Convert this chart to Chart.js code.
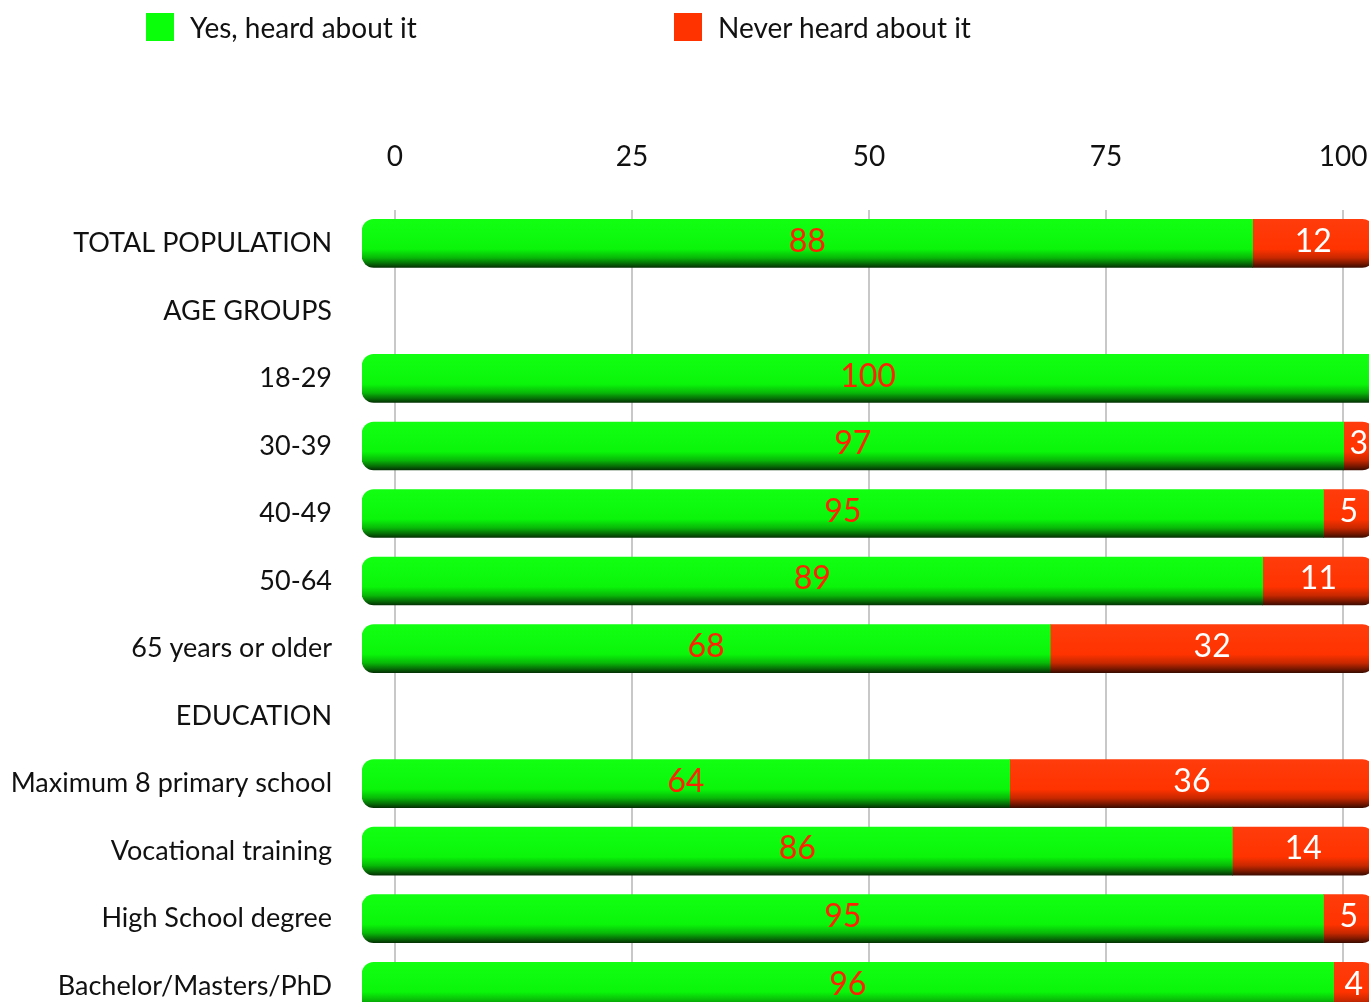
<!DOCTYPE html>
<html>
<head>
<meta charset="utf-8">
<script src="https://cdn.jsdelivr.net/npm/chart.js@4"></script>
<style>
  html, body { margin: 0; padding: 0; background: #fff; overflow: hidden; }
  #wrap { position: relative; width: 1369px; height: 1020px; }
  .legend { position: absolute; top: 10px; font: 28px Lato, sans-serif; color: #111; display: flex; align-items: center; }
  .legend span.box { display: inline-block; width: 28px; height: 28px; margin-right: 16px; }
</style>
</head>
<body>
<div id="wrap">
  <div class="legend" style="left:146px"><span class="box" style="background:#0aff0a"></span>Yes, heard about it</div>
  <div class="legend" style="left:674px"><span class="box" style="background:#ff3300"></span>Never heard about it</div>
  <canvas id="chart"></canvas>
</div>
<script>
const categories = [
  'TOTAL POPULATION', 'AGE GROUPS', '18-29', '30-39', '40-49', '50-64', '65 years or older',
  'EDUCATION', 'Maximum 8 primary school', 'Vocational training', 'High School degree', 'Bachelor/Masters/PhD'
];
const heardValues = [88, null, 100, 97, 95, 89, 68, null, 64, 86, 95, 96];
const neverValues = [12, null, 0, 3, 5, 11, 32, null, 36, 14, 5, 4];
const tickValues = [0, 25, 50, 75, 100];

const BAR_H = 48;

function barGradient(ctx, stops, flat) {
  const chart = ctx.chart;
  const y = chart.scales && chart.scales.y;
  if (!chart.chartArea || !y || ctx.dataIndex === undefined) return flat;
  const yc = y.getPixelForValue(ctx.dataIndex);
  const g = chart.ctx.createLinearGradient(0, yc - BAR_H / 2, 0, yc + BAR_H / 2);
  stops.forEach(([p, c]) => g.addColorStop(p, c));
  return g;
}

const GREEN_STOPS = [[0, '#12ff12'], [0.62, '#0af50a'], [0.8, '#08b808'], [0.92, '#066d06'], [1, '#043404']];
const RED_STOPS = [[0, '#ff3c0c'], [0.62, '#ff3300'], [0.8, '#c82800'], [0.92, '#7a1800'], [1, '#3e0c00']];

const valueLabels = {
  id: 'valueLabels',
  afterDatasetsDraw(chart) {
    const ctx = chart.ctx;
    ctx.save();
    ctx.font = '32px Lato, sans-serif';
    ctx.textAlign = 'center';
    ctx.textBaseline = 'middle';
    chart.data.datasets.forEach((ds, di) => {
      chart.getDatasetMeta(di).data.forEach((bar, i) => {
        const v = ds.data[i];
        if (!v) return;
        ctx.fillStyle = di === 0 ? '#ff2200' : '#ffffff';
        ctx.fillText(String(v), (bar.x + bar.base) / 2, bar.y - 2);
      });
    });
    ctx.restore();
  }
};

new Chart(document.getElementById('chart'), {
  type: 'bar',
  data: {
    labels: categories,
    datasets: [
      {
        label: 'Yes, heard about it',
        data: heardValues,
        backgroundColor: (c) => barGradient(c, GREEN_STOPS, '#0aff0a'),
        borderRadius: { topLeft: 12, bottomLeft: 12, topRight: 0, bottomRight: 0 },
        borderSkipped: false,
        barThickness: BAR_H,
        xAxisID: 'x',
      },
      {
        label: 'Never heard about it',
        data: neverValues,
        backgroundColor: (c) => barGradient(c, RED_STOPS, '#ff3300'),
        borderRadius: { topLeft: 0, bottomLeft: 0, topRight: 12, bottomRight: 12 },
        borderSkipped: false,
        barThickness: BAR_H,
        xAxisID: 'x',
      },
    ],
  },
  options: {
    indexAxis: 'y',
    responsive: true,
    maintainAspectRatio: false,
    animation: false,
    layout: { padding: { top: 104, left: 0, right: 0, bottom: 0 } },
    plugins: {
      legend: { display: false },
      tooltip: { enabled: false },
    },
    scales: {
      x: {
        stacked: true,
        display: false,
        min: 0,
        max: 99.5,
      },
      xt: {
        type: 'linear',
        position: 'top',
        min: -3.48,
        max: 102.74,
        afterBuildTicks: (scale) => { scale.ticks = tickValues.map((v) => ({ value: v })); },
        afterFit: (scale) => { scale.paddingLeft = 0; scale.paddingRight = 0; },
        ticks: { font: { family: 'Lato', size: 28 }, color: '#111', padding: 36 },
        grid: { color: '#c8c8c8', lineWidth: 2, drawTicks: false },
        border: { display: false },
      },
      y: {
        stacked: true,
        afterFit: (scale) => { scale.width = 362; scale.paddingTop = 0; scale.paddingBottom = 0; },
        ticks: { font: { family: 'Lato', size: 27 }, color: '#111', padding: 22 },
        grid: { display: false },
        border: { display: false },
      },
    },
  },
  plugins: [valueLabels],
});
</script>
</body>
</html>
